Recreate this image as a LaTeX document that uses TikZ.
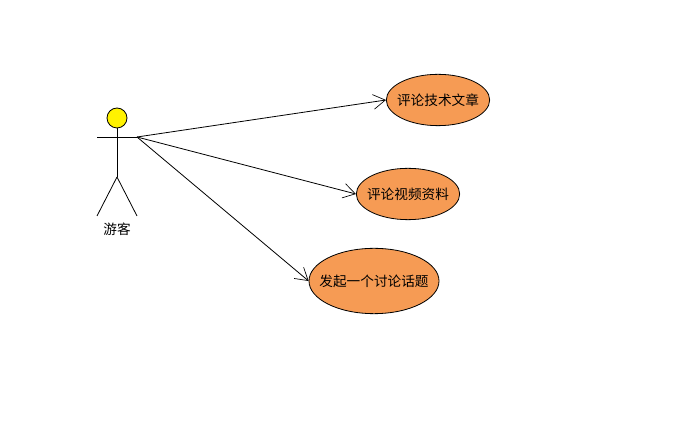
\documentclass[tikz,border=0pt]{standalone}
\usepackage{fontspec}
\setmainfont{Noto Sans CJK SC}[Scale=0.93]
\usetikzlibrary{arrows.meta,shapes.geometric}
\definecolor{caseFill}{RGB}{246,155,84}
\newcommand{\caseText}[1]{\makebox[0pt]{#1}}
\tikzstyle{useCase}=[shape=ellipse,draw=black,fill=caseFill,inner sep=0pt,font=\fontsize{11pt}{13pt}\selectfont,line width=0.6pt]
\tikzstyle{actorHead}=[shape=circle,draw=black,fill=yellow,inner sep=0pt,minimum size=15pt,line width=0.6pt]
\tikzstyle{actorLine}=[line width=0.6pt]
\tikzstyle{assoc}=[-{Straight Barb[length=9pt,width=11pt,line width=0.5pt]},line width=0.6pt]
\begin{document}
\begin{tikzpicture}[x=0.75pt,y=-0.75pt]
        \useasboundingbox (0,0) rectangle (674,423);
        % actor
        \node[actorHead] (head) at (117,118) {};
        \coordinate (hip)   at (117,177);
        \coordinate (lhand) at (97,137);
        \coordinate (rhand) at (137,137);
        \coordinate (lfoot) at (97,216);
        \coordinate (rfoot) at (137,216);
        \node[font=\fontsize{11pt}{13pt}\selectfont] (guest) at (117,229) {游客};

        \draw [actorLine] (head) to (hip);
        \draw [actorLine] (lhand) to (rhand);
        \draw [actorLine] (hip) to (lfoot);
        \draw [actorLine] (hip) to (rfoot);

        % use cases
        \node[useCase,minimum width=77.5pt,minimum height=38.5pt] (uc1) at (438,100) {\caseText{评论技术文章}};
        \node[useCase,minimum width=77.5pt,minimum height=38.5pt] (uc2) at (408,194) {\caseText{评论视频资料}};
        \node[useCase,minimum width=97.5pt,minimum height=49pt] (uc3) at (374,281) {\caseText{发起一个讨论话题}};

        \draw [assoc] (rhand) to (uc1.west);
        \draw [assoc] (rhand) to (uc2.west);
        \draw [assoc] (rhand) to (uc3.west);
\end{tikzpicture}
\end{document}
